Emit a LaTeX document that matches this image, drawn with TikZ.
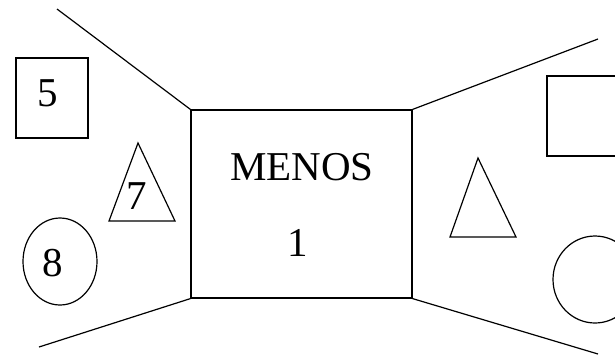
\documentclass[tikz,border=0pt]{standalone}
\usepackage{fontspec}
\setmainfont{Liberation Serif}
\usepackage{tikz}
\usetikzlibrary{shapes.geometric}

\begin{document}
\begin{tikzpicture}[x=1pt, y=-1pt, line width=1.2pt,
    label text/.style={font=\fontsize{41}{49}\selectfont, inner sep=0pt},
    shape box/.style={draw, inner sep=0pt}]

    \useasboundingbox (0, 0) rectangle (615, 357);
    \clip (0, 0) rectangle (615, 357);

    \node [shape box, minimum width=221pt, minimum height=188pt] (menos) at (301.5, 204) {};
    \node [label text] (menostxt) at (302, 167) {MENOS};
    \node [label text] (one) at (298, 243) {1};

    \coordinate (tl) at (57, 9);
    \coordinate (bl) at (39, 347);
    \coordinate (tr) at (598, 39);
    \coordinate (br) at (598, 354);
    \foreach \a/\p in {north west/tl, south west/bl, north east/tr, south east/br} {
      \draw (menos.\a) -- (\p);
    }

    % left side
    \node [shape box, minimum width=72pt, minimum height=80pt] (box5) at (52, 98) {};
    \node [label text] (five) at (48, 93) {5};
    \draw (138, 143) -- (109, 221) -- (175, 221) -- cycle;
    \node [label text] (seven) at (137, 196) {7};
    \node [shape box, ellipse, minimum width=74pt, minimum height=87pt] (oval8) at (60, 261.5) {};
    \node [label text] (eight) at (53, 263) {8};

    % right side
    \draw (547, 76) rectangle (640, 156);
    \draw (478, 158) -- (450, 237) -- (516, 237) -- cycle;
    \draw (595, 279.5) ellipse [x radius=42, y radius=43.5];

\end{tikzpicture}
\end{document}
